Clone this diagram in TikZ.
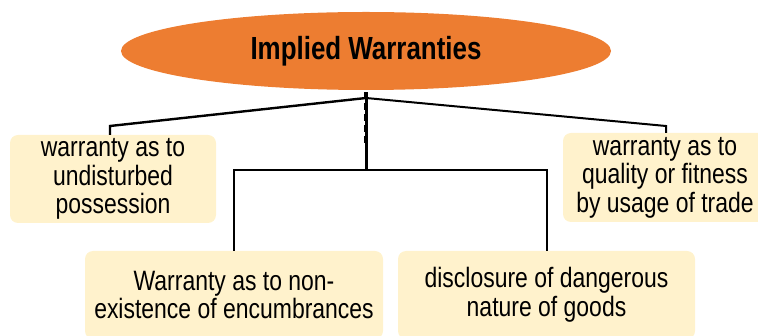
\documentclass[tikz,border=0pt]{standalone}
\usepackage{fontspec}
\setmainfont[FakeStretch=0.82]{Liberation Sans}
\newfontfamily\titlefont[FakeStretch=0.81]{Liberation Sans}
\usetikzlibrary{shapes.geometric}
\definecolor{orangeT}{HTML}{ED7D31}
\definecolor{creamB}{HTML}{FFF2CC}
\begin{document}
\begin{tikzpicture}[x=1pt,y=-1pt,
  titlenode/.style={ellipse,fill=orangeT,minimum width=490pt,minimum height=78pt,inner sep=0pt,
    font=\titlefont\bfseries\fontsize{32}{36}\selectfont},
  leafbox/.style={rectangle,rounded corners=8pt,fill=creamB,inner sep=0pt,align=center,
    font=\fontsize{28}{28.5}\selectfont},
  conn/.style={draw=black,line width=2pt},
  trunk/.style={draw=black,line width=3pt}]
\useasboundingbox (0,0) rectangle (758,336);
\clip (0,0) rectangle (758,336);
\node[titlenode] (title) at (366,51) {Implied Warranties};
\node[leafbox,minimum width=206pt,minimum height=88pt] (lb) at (113,179)
  {warranty as to\\undisturbed\\possession};
\node[leafbox,minimum width=204pt,minimum height=89pt] (rb) at (665,177.5)
  {warranty as to\\quality or fitness\\by usage of trade};
\node[leafbox,minimum width=298pt,minimum height=88pt] (bl) at (234,295)
  {Warranty as to non-\\existence of encumbrances};
\node[leafbox,minimum width=297pt,minimum height=88pt] (br) at (546.5,295)
  {disclosure of dangerous\\nature of goods};
\coordinate (hub) at (366,170);
\coordinate (tp) at (366,98);
\coordinate (lk) at (110,126);
\coordinate (rk) at (666,126);
% diagonal connectors
\draw[conn,line width=2.4pt] (tp) -- (lk) -- (lk |- lb.north);
\draw[conn] (tp) -- (rk) -- (rk |- rb.north);
% trunk
\draw[trunk] ([yshift=-8pt]title.south) -- (hub);
\draw[draw=black,line width=4.5pt,dash pattern=on 7pt off 4pt] ([yshift=-2pt]title.south) -- (366,145);
% bracket
\draw[conn] (bl.north) -- (bl.north |- hub) -- (br.north |- hub) -- (br.north);
\end{tikzpicture}
\end{document}
